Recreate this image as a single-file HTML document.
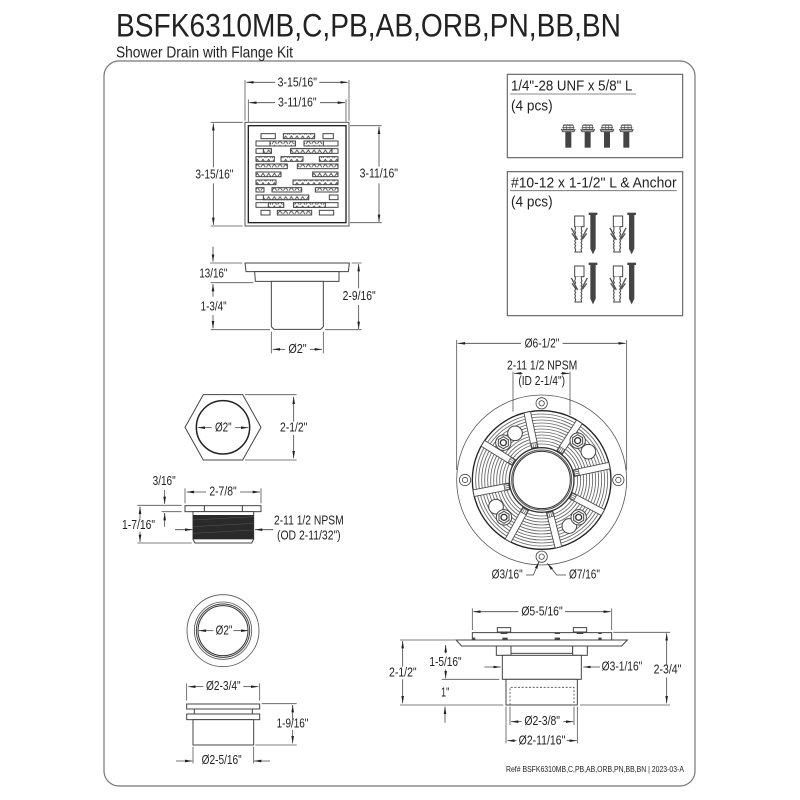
<!DOCTYPE html>
<html><head><meta charset="utf-8"><style>
html,body{margin:0;padding:0;background:#fff;width:800px;height:800px;overflow:hidden}
svg{display:block}
text{font-family:"Liberation Sans",sans-serif;fill:#222;stroke:none}
.t{font-size:39px}
.l{fill:none;stroke:#555;stroke-width:2.4}
.s{fill:#fff;stroke:#444;stroke-width:3}
.e{fill:none;stroke:#444;stroke-width:2.4;marker-end:url(#a)}
.h{fill:url(#p);stroke:#444;stroke-width:3}
.w{fill:#fff;stroke:#444;stroke-width:3}
.g{fill:none;stroke:#666;stroke-width:2.6}
</style></head><body>
<svg width="800" height="800" viewBox="0 0 800 800" xmlns="http://www.w3.org/2000/svg">
<defs>
<marker id="a" viewBox="0 0 22 8" refX="22" refY="4" markerWidth="22" markerHeight="8" markerUnits="userSpaceOnUse" orient="auto-start-reverse"><path d="M0 0L22 4L0 8z" fill="#222"/></marker>
<pattern id="p" width="17" height="14" patternUnits="userSpaceOnUse"><rect width="17" height="14" fill="#fff"/><path d="M0 12L7 2L14 12" fill="none" stroke="#444" stroke-width="2.6"/></pattern>
<g id="anchor">
<rect x="-14" y="0" width="28" height="32" class="w" stroke="#666"/>
<path d="M-12 32v8l-2 5 3 5-3 5 3 5-3 5 3 5-3 5 3 5-3 5 3 5-3 5 3 5-2 8h20l-2-8 3-5-3-5 3-5-3-5 3-5-3-5 3-5-3-5 3-5-3-5 3-5-2-5v-8" class="w" stroke-width="2.4"/>
<path d="M-5 72L-24 36M5 72L24 36M-9 70L-22 52M9 70L22 52" fill="none" stroke="#555" stroke-width="4"/>
<path d="M-13 -10" fill="none"/>
<rect x="28" y="-10" width="26" height="7" fill="#444"/>
<path d="M33 -3h16v101l-8 17-8-17z" fill="#444"/>
</g>
<g id="bolt">
<path d="M-21 15h42M-18 8h36M-14 0h28M-21 12l4 8h34l4-8" fill="none" stroke="#444" stroke-width="2.8"/>
<rect x="-15" y="1" width="30" height="12" fill="none" stroke="#555" stroke-width="2.4"/>
<path d="M-5 1v12M5 1v12" stroke="#555" stroke-width="2"/>
<rect x="-9" y="20" width="18" height="48" fill="#444"/>
</g>
<g id="hexb">
<circle r="23" class="w" stroke-width="2.5"/>
<path d="M-15 -9L0 -18L15 -9V9L0 18L-15 9Z" class="w" stroke-width="2.5"/>
<circle r="9" fill="#fff" stroke="#333" stroke-width="4"/>
</g>
<g id="rib">
<rect x="295" y="242" width="20" height="110" fill="#fff" stroke="#444" stroke-width="2.5"/>
<rect x="297" y="336" width="16" height="14" fill="#fff" stroke="#444" stroke-width="2"/>
<path d="M302 336v14M308 336v14" stroke="#555" stroke-width="2"/>
</g>
</defs>

<rect x="104" y="61" width="591" height="725" rx="15" fill="none" stroke="#777" stroke-width="1.2"/>
<text x="116" y="36.5" font-size="32" textLength="505" lengthAdjust="spacingAndGlyphs">BSFK6310MB,C,PB,AB,ORB,PN,BB,BN</text>
<text x="116" y="57.5" font-size="16" textLength="177" lengthAdjust="spacingAndGlyphs">Shower Drain with Flange Kit</text>

<!-- top view -->
<g transform="translate(170 70) scale(.33333)">
<rect x="225" y="157" width="312" height="311" fill="#fff" stroke="#555" stroke-width="3"/>
<rect x="235" y="167" width="293" height="291" fill="#fff" stroke="#222" stroke-width="4"/>
<rect x="273" y="191" width="43" height="15" class="w"/><rect x="340" y="191" width="94" height="15" class="h"/><rect x="459" y="191" width="31" height="15" class="w"/>
<rect x="258" y="213" width="118" height="15" class="w"/><rect x="300" y="213" width="76" height="15" class="h"/><rect x="402" y="213" width="102" height="15" class="w"/><rect x="402" y="213" width="58" height="15" class="h"/>
<rect x="258" y="236" width="46" height="14" class="w"/><rect x="280" y="236" width="24" height="14" class="h"/><rect x="362" y="236" width="142" height="14" class="w"/><rect x="362" y="236" width="124" height="14" class="h"/>
<rect x="258" y="260" width="55" height="14" class="h"/><rect x="333" y="260" width="66" height="14" class="h"/><rect x="448" y="260" width="56" height="14" class="h"/>
<rect x="258" y="282" width="94" height="14" class="h"/><rect x="382" y="282" width="122" height="14" class="h"/>
<rect x="258" y="306" width="75" height="14" class="h"/><rect x="428" y="306" width="76" height="14" class="h"/>
<rect x="258" y="330" width="60" height="14" class="h"/><rect x="369" y="330" width="135" height="14" class="h"/>
<rect x="258" y="353" width="24" height="13" class="h"/><rect x="306" y="353" width="89" height="13" class="h"/><rect x="436" y="353" width="68" height="13" class="h"/>
<rect x="258" y="375" width="158" height="14" class="w"/><rect x="280" y="375" width="136" height="14" class="h"/><rect x="478" y="375" width="26" height="14" class="w"/>
<rect x="258" y="398" width="83" height="14" class="w"/><rect x="295" y="398" width="46" height="14" class="h"/><rect x="371" y="398" width="133" height="14" class="w"/><rect x="371" y="398" width="95" height="14" class="h"/>
<rect x="273" y="421" width="27" height="14" class="w"/><rect x="322" y="421" width="103" height="14" class="h"/><rect x="448" y="421" width="43" height="14" class="w"/>

<path class="l" d="M225 30V152M537 30V152M235 88V155M528 88V155M122 157H218M122 468H218M540 167H635M540 458H635"/>
<path class="e" d="M315 37H229"/><path class="e" d="M448 37H533"/>
<path class="e" d="M315 98H238"/><path class="e" d="M450 98H525"/>
<path class="e" d="M130 292V160"/><path class="e" d="M130 340V465"/>
<path class="e" d="M627 290V170"/><path class="e" d="M627 340V456"/>
<text class="t" x="323" y="50" textLength="118" lengthAdjust="spacingAndGlyphs">3-15/16"</text>
<text class="t" x="324" y="110" textLength="116" lengthAdjust="spacingAndGlyphs">3-11/16"</text>
<text class="t" x="76" y="325" textLength="114" lengthAdjust="spacingAndGlyphs">3-15/16"</text>
<text class="t" x="569" y="323" textLength="115" lengthAdjust="spacingAndGlyphs">3-11/16"</text>
</g>

<!-- side view -->
<g transform="translate(170 240) scale(.33333)">
<path class="s" d="M225 69H538L535 95H228Z"/>
<path class="s" d="M254 95H507V124H256Z"/>
<path class="s" d="M304 124H460V260L452 268H312L304 260Z"/>
<path class="l" d="M120 69H217M122 128H250M122 269H300M545 69H575M465 269H575M304 275V340M460 275V340"/>
<path class="e" d="M129 20V65"/><path class="e" d="M129 170V132"/><path class="e" d="M129 225V265"/>
<path class="e" d="M566 145V72"/><path class="e" d="M566 195V267"/>
<path class="e" d="M345 328H308"/><path class="e" d="M420 328H456"/>
<text class="t" x="88" y="113" textLength="84" lengthAdjust="spacingAndGlyphs">13/16"</text>
<text class="t" x="92" y="212" textLength="78" lengthAdjust="spacingAndGlyphs">1-3/4"</text>
<text class="t" x="518" y="180" textLength="99" lengthAdjust="spacingAndGlyphs">2-9/16"</text>
<text class="t" x="355" y="339" textLength="55" lengthAdjust="spacingAndGlyphs">Ø2"</text>
</g>

<!-- boxes -->
<g transform="translate(500 70) scale(.33333)">
<rect x="22" y="13" width="526" height="250" fill="#fff" stroke="#666" stroke-width="3.5"/>
<rect x="22" y="305" width="526" height="432" fill="#fff" stroke="#666" stroke-width="3.5"/>
<text x="33" y="62" font-size="45" textLength="364" lengthAdjust="spacingAndGlyphs">1/4"-28 UNF x 5/8" L</text>
<path d="M30 72H408M30 362H530" stroke="#666" stroke-width="2.5"/>
<text x="33" y="122" font-size="45" textLength="125" lengthAdjust="spacingAndGlyphs">(4 pcs)</text>
<text x="33" y="352" font-size="45" textLength="497" lengthAdjust="spacingAndGlyphs">#10-12 x 1-1/2" L &amp; Anchor</text>
<text x="33" y="410" font-size="45" textLength="125" lengthAdjust="spacingAndGlyphs">(4 pcs)</text>
<use href="#bolt" x="205" y="165"/><use href="#bolt" x="263" y="165"/><use href="#bolt" x="321" y="165"/><use href="#bolt" x="379" y="165"/>
<use href="#anchor" x="238" y="438"/><use href="#anchor" x="354" y="438"/><use href="#anchor" x="238" y="588"/><use href="#anchor" x="354" y="588"/>
</g>

<!-- flange plan -->
<g transform="translate(440 330) scale(.33333)">
<path class="l" d="M50 30V420M560 30V420"/>
<path class="l" d="M219 125V245M390 125V255" stroke-width="2"/>
<circle cx="305" cy="450" r="255" fill="none" stroke="#555" stroke-width="2.4"/>
<circle cx="305" cy="450" r="208" fill="#fff" stroke="#222" stroke-width="4"/>
<circle cx="305" cy="450" r="198" class="g"/><circle cx="305" cy="450" r="189" class="g"/><circle cx="305" cy="450" r="180" class="g"/><circle cx="305" cy="450" r="171" class="g"/><circle cx="305" cy="450" r="162" class="g"/><circle cx="305" cy="450" r="153" class="g"/><circle cx="305" cy="450" r="144" class="g"/><circle cx="305" cy="450" r="135" class="g"/><circle cx="305" cy="450" r="126" class="g"/><circle cx="305" cy="450" r="117" class="g"/><circle cx="305" cy="450" r="108" class="g"/>
<use href="#rib" transform="rotate(-12 305 450)"/><use href="#rib" transform="rotate(33 305 450)"/><use href="#rib" transform="rotate(78 305 450)"/><use href="#rib" transform="rotate(118 305 450)"/><use href="#rib" transform="rotate(166 305 450)"/><use href="#rib" transform="rotate(209 305 450)"/><use href="#rib" transform="rotate(259 305 450)"/><use href="#rib" transform="rotate(302 305 450)"/>
<circle cx="225" cy="310" r="22" class="w" stroke-width="2.5"/><circle cx="445" cy="365" r="22" class="w" stroke-width="2.5"/><circle cx="168" cy="530" r="22" class="w" stroke-width="2.5"/><circle cx="388" cy="588" r="22" class="w" stroke-width="2.5"/>
<use href="#hexb" x="190" y="338"/><use href="#hexb" x="413" y="332"/><use href="#hexb" x="416" y="562"/><use href="#hexb" x="192" y="562"/>
<circle cx="305" cy="450" r="97" fill="#fff" stroke="#333" stroke-width="4"/>
<circle cx="305" cy="450" r="90" fill="#fff" stroke="#555" stroke-width="3"/>
<circle cx="305" cy="450" r="86" fill="#fff" stroke="#333" stroke-width="3"/>
<g fill="#fff" stroke="#444" stroke-width="2.4"><circle cx="305" cy="220" r="17"/><circle cx="305" cy="220" r="8"/><circle cx="535" cy="450" r="17"/><circle cx="535" cy="450" r="8"/><circle cx="305" cy="680" r="17"/><circle cx="305" cy="680" r="8"/><circle cx="75" cy="450" r="17"/><circle cx="75" cy="450" r="8"/></g>
<path class="e" d="M243 40H53"/><path class="e" d="M368 40H557"/>
<path class="e" d="M248 130H222"/><path class="e" d="M362 130H388"/>
<path class="e" d="M258 735H280L297 695"/><path class="e" d="M378 735H350L322 700"/>
<text class="t" x="254" y="52" textLength="104" lengthAdjust="spacingAndGlyphs">Ø6-1/2"</text>
<text class="t" x="201" y="118" textLength="211" lengthAdjust="spacingAndGlyphs">2-11 1/2 NPSM</text>
<text class="t" x="235" y="165" textLength="140" lengthAdjust="spacingAndGlyphs">(ID 2-1/4")</text>
<text class="t" x="155" y="745" textLength="93" lengthAdjust="spacingAndGlyphs">Ø3/16"</text>
<text class="t" x="387" y="745" textLength="93" lengthAdjust="spacingAndGlyphs">Ø7/16"</text>
</g>

<!-- nut -->
<g transform="translate(130 380) scale(.33333)">
<path class="s" d="M165 142L220 44H338L393 142L338 240H220Z" stroke-width="2.5"/>
<circle cx="279" cy="142" r="80" fill="#fff" stroke="#222" stroke-width="4.5"/>
<path class="l" d="M345 44H500M345 240H500M165 325V370M393 325V370M22 376H155M95 395H155M22 489H185"/>
<path class="e" d="M245 143H203"/><path class="e" d="M315 143H355"/>
<path class="e" d="M491 125V50"/><path class="e" d="M491 165V235"/>
<path class="e" d="M228 336H170"/><path class="e" d="M330 336H390"/>
<path class="e" d="M104 330V372"/><path class="e" d="M104 440V399"/>
<path class="e" d="M30 420V380"/><path class="e" d="M30 455V486"/>
<path class="e" d="M135 449H187"/><path class="e" d="M430 449H375"/>
<rect x="165" y="377" width="228" height="18" class="s"/>
<path d="M223 377v18M337 377v18" stroke="#333" stroke-width="3"/>
<path class="s" d="M189 395H371V478L365 489H195L189 478Z"/>
<rect x="189" y="405" width="182" height="73" fill="#2a2a2a"/>
<path d="M189 420L371 410M189 440L371 430M189 460L371 450" stroke="#555" stroke-width="1.5"/>
<text class="t" x="255" y="154" textLength="50" lengthAdjust="spacingAndGlyphs">Ø2"</text>
<text class="t" x="450" y="155" textLength="82" lengthAdjust="spacingAndGlyphs">2-1/2"</text>
<text class="t" x="68" y="315" textLength="69" lengthAdjust="spacingAndGlyphs">3/16"</text>
<text class="t" x="238" y="347" textLength="82" lengthAdjust="spacingAndGlyphs">2-7/8"</text>
<text class="t" x="-24" y="447" textLength="99" lengthAdjust="spacingAndGlyphs">1-7/16"</text>
<text class="t" x="432" y="433" textLength="209" lengthAdjust="spacingAndGlyphs">2-11 1/2 NPSM</text>
<text class="t" x="441" y="479" textLength="191" lengthAdjust="spacingAndGlyphs">(OD 2-11/32")</text>
</g>

<!-- spud -->
<g transform="translate(150 590) scale(.33333)">
<circle cx="219" cy="122" r="108" fill="#fff" stroke="#555" stroke-width="2.5"/>
<circle cx="219" cy="122" r="86" fill="#fff" stroke="#555" stroke-width="2.5"/>
<circle cx="219" cy="122" r="80" fill="#fff" stroke="#444" stroke-width="3"/>
<circle cx="219" cy="122" r="75" fill="#fff" stroke="#333" stroke-width="3"/>
<path class="e" d="M190 122H146"/><path class="e" d="M250 122H295"/>
<path class="l" d="M110 280V332M329 280V332M335 341H440M316 465H440M129 470V520M311 470V520"/>
<path class="e" d="M160 290H115"/><path class="e" d="M280 290H325"/>
<path class="e" d="M428 390V345"/><path class="e" d="M428 420V460"/>
<path class="e" d="M78 513H127"/><path class="e" d="M360 513H312"/>
<rect x="110" y="342" width="219" height="15" class="s"/>
<rect x="133" y="357" width="174" height="15" class="s"/>
<rect x="110" y="372" width="219" height="17" class="s"/>
<rect x="129" y="389" width="182" height="76" class="s"/>
<text class="t" x="197" y="134" textLength="50" lengthAdjust="spacingAndGlyphs">Ø2"</text>
<text class="t" x="168" y="300" textLength="104" lengthAdjust="spacingAndGlyphs">Ø2-3/4"</text>
<text class="t" x="380" y="413" textLength="95" lengthAdjust="spacingAndGlyphs">1-9/16"</text>
<text class="t" x="155" y="522" textLength="120" lengthAdjust="spacingAndGlyphs">Ø2-5/16"</text>
</g>

<!-- flange side -->
<g transform="translate(380 590) scale(.33333)">
<path class="l" d="M277 55V120M695 55V120M700 127H870M600 345H870M60 150H225M60 345H370M185 268H358M378 350V460M592 350V460M390 350V405M582 350V405"/>
<path class="e" d="M415 65H280"/><path class="e" d="M555 65H692"/>
<path class="e" d="M68 230V153"/><path class="e" d="M68 268V340"/>
<path class="e" d="M197 190V165"/><path class="e" d="M197 238V265"/>
<path class="e" d="M195 398V350"/>
<path class="e" d="M860 225V130"/><path class="e" d="M860 262V340"/>
<path class="e" d="M313 231H362"/><path class="e" d="M660 231H610"/>
<path class="e" d="M425 395H393"/><path class="e" d="M550 395H580"/>
<path class="e" d="M410 452H382"/><path class="e" d="M560 452H590"/>
<path class="s" d="M277 128H695V150H277Z" stroke-width="2.5"/>
<path class="s" d="M228 150H742L725 168H245Z"/>
<path class="s" d="M352 113H392V126H352ZM580 113H620V126H580Z" stroke-width="3"/>
<path d="M362 128h20v4h-20zM590 128h20v4h-20zM524 128h16v4h-16zM655 128h10v4h-10zM367 143h16v6h-16zM524 143h16v6h-16zM655 143h10v6h-10zM278 143h8v6h-8z" fill="#444"/>
<rect x="393" y="168" width="185" height="22" class="s" stroke-width="2.5"/>
<rect x="349" y="168" width="44" height="28" class="s"/>
<rect x="578" y="168" width="44" height="28" class="s"/>
<rect x="367" y="196" width="237" height="72" class="s"/>
<rect x="378" y="268" width="214" height="77" class="s"/>
<path d="M390 345V292H582V345" fill="none" stroke="#444" stroke-width="2.4" stroke-dasharray="6 5"/>
<text class="t" x="424" y="77" textLength="124" lengthAdjust="spacingAndGlyphs">Ø5-5/16"</text>
<text class="t" x="665" y="242" textLength="122" lengthAdjust="spacingAndGlyphs">Ø3-1/16"</text>
<text class="t" x="27" y="260" textLength="83" lengthAdjust="spacingAndGlyphs">2-1/2"</text>
<text class="t" x="148" y="228" textLength="97" lengthAdjust="spacingAndGlyphs">1-5/16"</text>
<text class="t" x="183" y="320" textLength="25" lengthAdjust="spacingAndGlyphs">1"</text>
<text class="t" x="821" y="250" textLength="83" lengthAdjust="spacingAndGlyphs">2-3/4"</text>
<text class="t" x="433" y="405" textLength="107" lengthAdjust="spacingAndGlyphs">Ø2-3/8"</text>
<text class="t" x="416" y="463" textLength="140" lengthAdjust="spacingAndGlyphs">Ø2-11/16"</text>
</g>
<text x="506" y="772" font-size="8.5" textLength="178" lengthAdjust="spacingAndGlyphs">Ref# BSFK6310MB,C,PB,AB,ORB,PN,BB,BN | 2023-03-A</text>
</svg>
</body></html>
